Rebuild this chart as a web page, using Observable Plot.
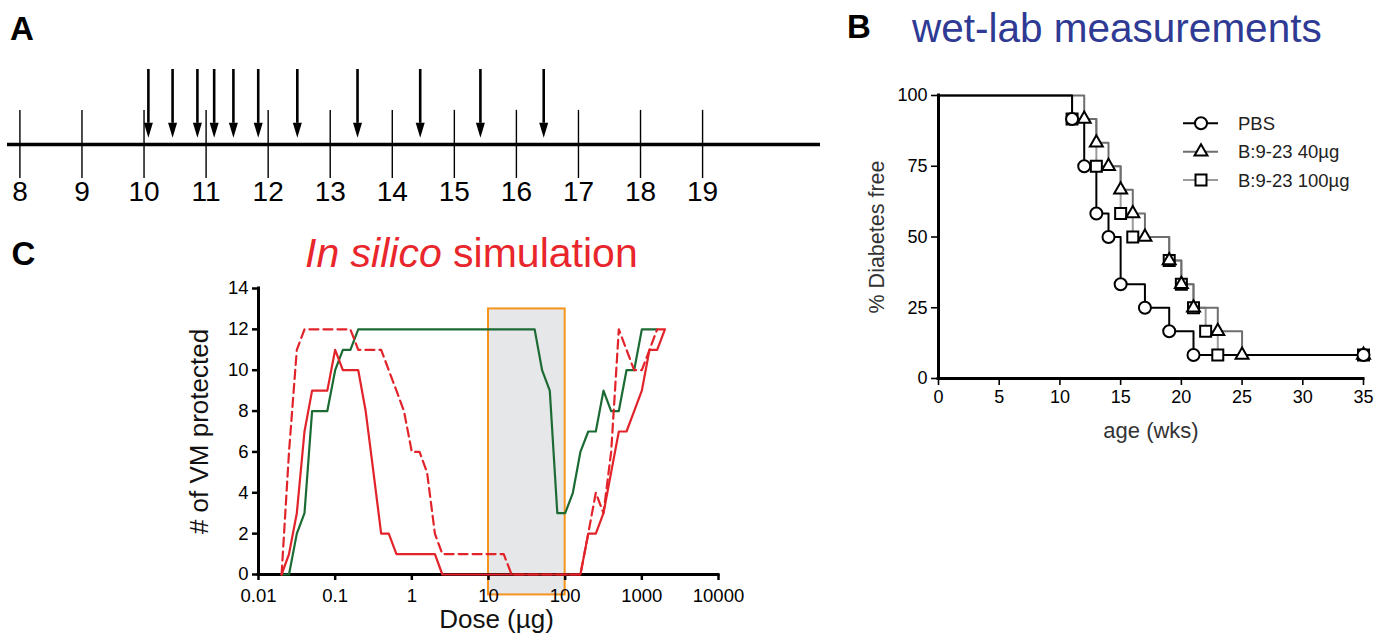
<!DOCTYPE html>
<html>
<head>
<meta charset="utf-8">
<script src="https://cdn.jsdelivr.net/npm/d3@7"></script>
<script src="https://cdn.jsdelivr.net/npm/@observablehq/plot@0.6"></script>
<style>
  html, body { margin: 0; padding: 0; background: #fff; }
  #fig { position: relative; width: 1386px; height: 642px; overflow: hidden; color: #000;
         font-family: "Liberation Sans", Arial, Helvetica, sans-serif; }
  .panel { position: absolute; }
  #overlay { position: absolute; left: 0; top: 0; pointer-events: none; }
</style>
</head>
<body>
<div id="fig">
  <div id="pa" class="panel" style="left:0px;top:0px"></div>
  <div id="pb" class="panel" style="left:860px;top:80px"></div>
  <div id="pc" class="panel" style="left:180px;top:270px"></div>
</div>
<script>
// ---------- Panel A: injection schedule (weeks of age) ----------
const weeks = [8, 9, 10, 11, 12, 13, 14, 15, 16, 17, 18, 19];
const injectionWeeks = [10.07, 10.46, 10.86, 11.13, 11.44, 11.84, 12.47, 13.44, 14.45, 15.42, 16.44];

// ---------- Panel B: wet-lab survival (% diabetes free) ----------
const pbsAge   = [0, 11, 12, 13, 14, 15, 17, 19, 21, 35];
const pbsFree  = [100, 91.67, 75, 58.33, 50, 33.33, 25, 16.67, 8.33, 8.33];
const b40Age   = [0, 12, 13, 14, 15, 16, 17, 19, 20, 21, 23, 25, 35];
const b40Free  = [100, 91.67, 83.33, 75, 66.67, 58.33, 50, 41.67, 33.33, 25, 16.67, 8.33, 8.33];
const b100Age  = [0, 11, 13, 15, 16, 19, 20, 21, 22, 23, 35];
const b100Free = [100, 91.67, 75, 58.33, 50, 41.67, 33.33, 25, 16.67, 8.33, 8.33];
const seriesNames = ["PBS", "B:9-23 40µg", "B:9-23 100µg"];
const ageTicks  = [0, 5, 10, 15, 20, 25, 30, 35];
const freeTicks = [0, 25, 50, 75, 100];

// ---------- Panel C: in silico simulation ----------
const redSolidDose  = [0.02, 0.025, 0.0316, 0.0398, 0.05, 0.079, 0.1, 0.126, 0.2, 0.25, 0.316, 0.398, 0.5, 0.63, 2.0, 2.5, 158, 200, 251, 316, 398, 501, 631, 794, 1000, 1259, 1585, 2000];
const redSolidCount = [0, 1, 3, 7, 9, 9, 11, 10, 10, 8, 5, 2, 2, 1, 1, 0, 0, 2, 2, 3, 5, 7, 7, 8, 9, 11, 11, 12];
const redDashDose   = [0.02, 0.025, 0.0316, 0.0398, 0.158, 0.2, 0.398, 0.5, 0.63, 0.79, 1.0, 1.26, 1.58, 2.0, 2.5, 15.8, 20, 158, 200, 251, 316, 398, 501, 631, 794, 1000, 1259, 1585, 2000];
const redDashCount  = [0, 6, 11, 12, 12, 11, 11, 10, 9, 8, 6, 6, 5, 2, 1, 1, 0, 0, 2, 4, 3, 6, 12, 11, 10, 10, 11, 12, 12];
const greenDose     = [0.02, 0.025, 0.0316, 0.0398, 0.05, 0.079, 0.1, 0.126, 0.158, 0.2, 40, 50, 63, 79, 100, 126, 158, 200, 251, 316, 398, 501, 631, 794, 1000, 1585];
const greenCount    = [0, 0, 2, 3, 8, 8, 10, 11, 11, 12, 12, 10, 9, 3, 3, 4, 6, 7, 7, 9, 8, 8, 10, 10, 12, 12];
const windowDose    = [10, 100];
const windowCount   = [-1, 13];
const doseTicks  = [0.01, 0.1, 1, 10, 100, 1000, 10000];
const countTicks = [0, 2, 4, 6, 8, 10, 12, 14];

const font = '"Liberation Sans", Arial, Helvetica, sans-serif';

// ===== Panel A =====
const arrowHead = { draw(ctx) { ctx.moveTo(-4.5, -15); ctx.lineTo(0, 0); ctx.lineTo(4.5, -15); ctx.closePath(); } };
const plotA = Plot.plot({
  width: 830, height: 215, marginLeft: 7, marginRight: 10, marginTop: 69, marginBottom: 37,
  style: {background: "transparent", fontFamily: font, overflow: "visible", color: "black"},
  x: {domain: [7.8, 20.9], axis: null},
  y: {domain: [-1, 2.2], axis: null},
  marks: [
    Plot.ruleX(weeks, {x: d => d, y1: -1, y2: 1, stroke: "black", strokeWidth: 1.4}),
    Plot.ruleY([0], {x1: 7.8, x2: 20.9, stroke: "black", strokeWidth: 3.5}),
    Plot.ruleX(injectionWeeks, {x: d => d, y1: 0.62, y2: 2.2, stroke: "black", strokeWidth: 2.6}),
    Plot.dot(injectionWeeks, {x: d => d, y: 0.2, symbol: arrowHead, fill: "black", stroke: "none"}),
    Plot.text(weeks, {x: d => d, y: -1, dy: 14, text: d => String(d), fontSize: 28, fill: "black", fontFamily: font})
  ]
});
document.getElementById("pa").appendChild(plotA);

// ===== Panel B =====
const seriesB = [
  {name: seriesNames[2], age: b100Age, free: b100Free, symbol: "square",   color: "#9b9b9b", r: 6.2},
  {name: seriesNames[1], age: b40Age,  free: b40Free,  symbol: "triangle", color: "#6e6e6e", r: 4.8},
  {name: seriesNames[0], age: pbsAge,  free: pbsFree,  symbol: "circle",   color: "black",   r: 6}
];
const lineMarksB = seriesB.map(s =>
  Plot.line(d3.range(s.age.length), {x: i => s.age[i], y: i => s.free[i], curve: "step-after",
    stroke: s.color, strokeWidth: 2}));
const dotMarksB = seriesB.map(s =>
  Plot.dot(d3.range(1, s.age.length), {x: i => s.age[i], y: i => s.free[i], symbol: s.symbol, r: s.r,
    stroke: "black", strokeWidth: 2, fill: "white"}));
const plotB = Plot.plot({
  width: 520, height: 380, marginLeft: 78, marginRight: 17, marginTop: 15, marginBottom: 82,
  style: {background: "transparent", fontFamily: font, overflow: "visible", color: "black"},
  x: {domain: [0, 35]},
  y: {domain: [0, 100]},
  marks: [
    Plot.axisX({ticks: ageTicks, tickSize: 7, tickPadding: 5, fontSize: 18, strokeWidth: 1.6, label: null}),
    Plot.axisY({ticks: freeTicks, tickSize: 7, tickPadding: 4, fontSize: 18, strokeWidth: 1.6, label: null}),
    ...lineMarksB,
    ...dotMarksB,
    Plot.ruleY([0], {x1: 0, x2: 35, stroke: "black", strokeWidth: 3, strokeLinecap: "square"}),
    Plot.ruleX([0], {y1: 0, y2: 100, stroke: "black", strokeWidth: 3, strokeLinecap: "square"}),
    Plot.text(["age (wks)"], {text: d => d, frameAnchor: "bottom", textAnchor: "middle", dy: 59, fontSize: 22, fill: "#333", fontFamily: font}),
    Plot.text(["% Diabetes free"], {text: d => d, frameAnchor: "left", textAnchor: "middle", dx: -61, rotate: -90, fontSize: 21.5, fill: "#333", fontFamily: font})
  ]
});
document.getElementById("pb").appendChild(plotB);

// ===== Panel C =====
const plotC = Plot.plot({
  width: 560, height: 372, marginLeft: 78, marginRight: 22, marginTop: 18, marginBottom: 68,
  style: {background: "transparent", fontFamily: font, overflow: "visible", color: "black"},
  x: {type: "log", domain: [0.01, 10000]},
  y: {domain: [0, 14]},
  marks: [
    Plot.rect([0], {x1: windowDose[0], x2: windowDose[1], y1: windowCount[0], y2: windowCount[1],
      fill: "#e6e7e8", stroke: "#f7941d", strokeWidth: 2}),
    Plot.axisX({ticks: doseTicks, tickFormat: d => String(d), tickSize: 6, tickPadding: 8, fontSize: 18.5, strokeWidth: 2.5, label: null}),
    Plot.axisY({ticks: countTicks, tickSize: 6, tickPadding: 4, fontSize: 18.5, strokeWidth: 2.5, label: null}),
    Plot.ruleY([0], {x1: 0.01, x2: 10000, stroke: "black", strokeWidth: 3, strokeLinecap: "square"}),
    Plot.ruleX([0.01], {y1: 0, y2: 14, stroke: "black", strokeWidth: 3, strokeLinecap: "square"}),
    Plot.line(d3.range(greenDose.length), {x: i => greenDose[i], y: i => greenCount[i], stroke: "#1d6b34", strokeWidth: 2.2}),
    Plot.line(d3.range(redDashDose.length), {x: i => redDashDose[i], y: i => redDashCount[i], stroke: "#e2232a", strokeWidth: 2.2, strokeDasharray: "9,5"}),
    Plot.line(d3.range(redSolidDose.length), {x: i => redSolidDose[i], y: i => redSolidCount[i], stroke: "#e2232a", strokeWidth: 2.2}),
    Plot.text(["Dose (µg)"], {text: d => d, frameAnchor: "bottom", textAnchor: "middle", dx: 8, dy: 53, fontSize: 26, fill: "#111", fontFamily: font}),
    Plot.text(["# of VM protected"], {text: d => d, frameAnchor: "left", textAnchor: "middle", dx: -59, rotate: -90, fontSize: 26, fill: "#111", fontFamily: font})
  ]
});
document.getElementById("pc").appendChild(plotC);

// ===== Overlay: panel letters, titles, legend of B =====
const overlay = d3.select("#fig").append("svg").attr("id", "overlay")
  .attr("width", 1386).attr("height", 642).style("font-family", font);
[["A", 10, 39.5], ["B", 847, 37.5], ["C", 11.5, 264.5]].forEach(([t, x, y]) =>
  overlay.append("text").attr("x", x).attr("y", y).attr("font-size", 33).attr("font-weight", "bold").attr("fill", "#000").text(t));

overlay.append("text").attr("x", 912).attr("y", 41.5).attr("font-size", 40.5).attr("fill", "#2f3a94").text("wet-lab measurements");
const tc = overlay.append("text").attr("x", 305).attr("y", 266.5).attr("font-size", 41).attr("fill", "#e8262b").style("white-space", "pre");
tc.append("tspan").attr("font-style", "italic").text("In silico");
tc.append("tspan").text(" simulation");

const legendRows = [
  {name: seriesNames[0], sym: d3.symbolCircle,   r: 6,   color: "black"},
  {name: seriesNames[1], sym: d3.symbolTriangle, r: 4.8, color: "#6e6e6e"},
  {name: seriesNames[2], sym: d3.symbolSquare,   r: 6.2, color: "#9b9b9b"}
];
legendRows.forEach((row, k) => {
  const y = 123.3 + k * 28.4;
  const g = overlay.append("g");
  g.append("line").attr("x1", 1183).attr("x2", 1218).attr("y1", y).attr("y2", y).attr("stroke", row.color).attr("stroke-width", 2);
  g.append("path").attr("transform", `translate(1201,${y})`)
    .attr("d", d3.symbol(row.sym, row.r * row.r * Math.PI)())
    .attr("fill", "white").attr("stroke", "black").attr("stroke-width", 2);
  g.append("text").attr("x", 1238).attr("y", y).attr("dy", "0.35em").attr("font-size", 18.5).attr("fill", "#222").text(row.name);
});
</script>
</body>
</html>
